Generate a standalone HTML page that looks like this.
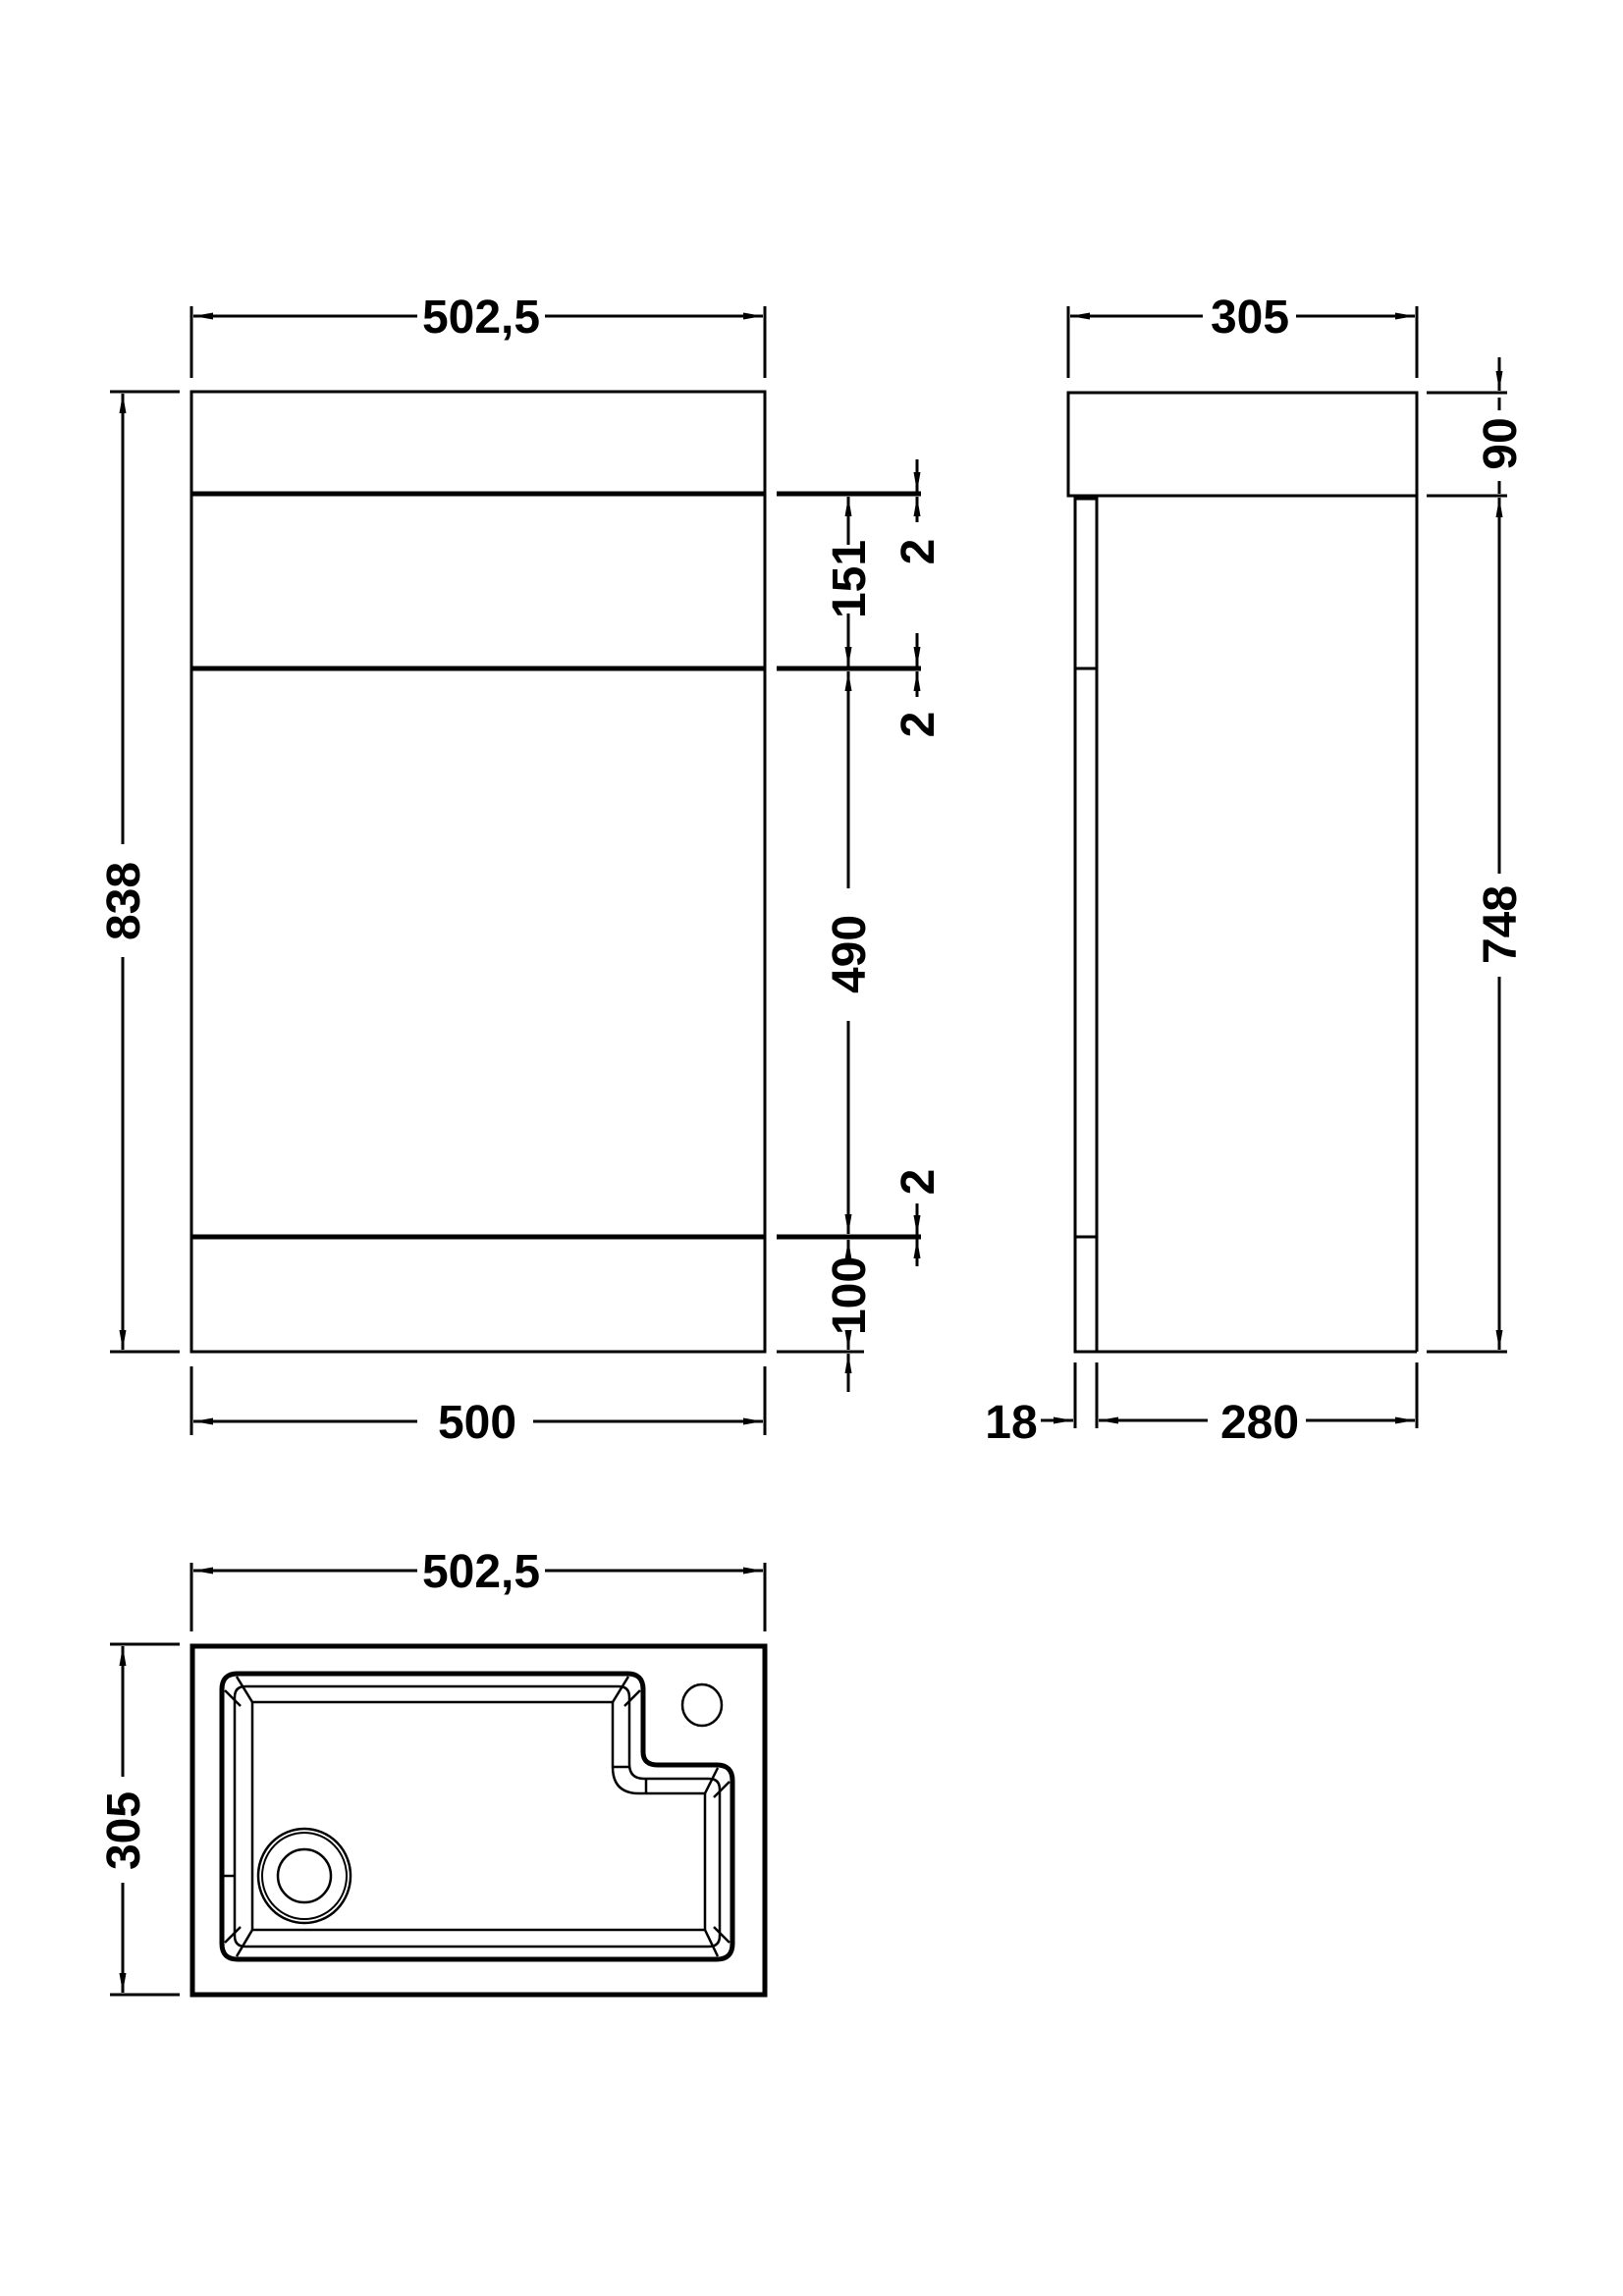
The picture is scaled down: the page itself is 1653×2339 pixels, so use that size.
<!DOCTYPE html>
<html><head><meta charset="utf-8"><style>
html,body{margin:0;padding:0;background:#fff;}
svg{display:block;}
text{font-family:"Liberation Sans",Arial,sans-serif;font-weight:bold;font-size:48px;fill:#000;}
</style></head><body>
<svg width="1653" height="2339" viewBox="0 0 1653 2339" xmlns="http://www.w3.org/2000/svg">
<defs>
<marker id="a" viewBox="0 0 20 8" refX="20" refY="4" markerWidth="20" markerHeight="8" markerUnits="userSpaceOnUse" orient="auto-start-reverse">
<path d="M0,0.5 L20,4 L0,7.5 Z" fill="#000"/>
</marker>
</defs>
<g stroke="#000" fill="none" stroke-width="3">
<!-- FRONT VIEW -->
<rect x="195" y="399" width="584" height="978"/>
<line x1="195" y1="503" x2="779" y2="503" stroke-width="5"/>
<line x1="195" y1="681" x2="779" y2="681" stroke-width="5"/>
<line x1="195" y1="1260" x2="779" y2="1260" stroke-width="5"/>
<line x1="791" y1="503" x2="938" y2="503" stroke-width="5"/>
<line x1="791" y1="681" x2="938" y2="681" stroke-width="5"/>
<line x1="791" y1="1260" x2="938" y2="1260" stroke-width="5"/>
<line x1="791" y1="1377" x2="880" y2="1377"/>
<!-- top dim -->
<line x1="195" y1="312" x2="195" y2="385"/>
<line x1="779" y1="312" x2="779" y2="385"/>
<line x1="197" y1="322" x2="425" y2="322" marker-start="url(#a)"/>
<line x1="555" y1="322" x2="777" y2="322" marker-end="url(#a)"/>
<!-- 838 -->
<line x1="112" y1="399" x2="183" y2="399"/>
<line x1="112" y1="1377" x2="183" y2="1377"/>
<line x1="125" y1="401" x2="125" y2="860" marker-start="url(#a)"/>
<line x1="125" y1="975" x2="125" y2="1375" marker-end="url(#a)"/>
<!-- 500 -->
<line x1="195" y1="1392" x2="195" y2="1462"/>
<line x1="779" y1="1392" x2="779" y2="1462"/>
<line x1="197" y1="1448" x2="425" y2="1448" marker-start="url(#a)"/>
<line x1="543" y1="1448" x2="777" y2="1448" marker-end="url(#a)"/>
<!-- 151/490/100 column -->
<line x1="864" y1="506" x2="864" y2="555" marker-start="url(#a)"/>
<line x1="864" y1="625" x2="864" y2="679" marker-end="url(#a)"/>
<line x1="864" y1="684" x2="864" y2="905" marker-start="url(#a)"/>
<line x1="864" y1="1040" x2="864" y2="1257" marker-end="url(#a)"/>
<line x1="864" y1="1263" x2="864" y2="1285" marker-start="url(#a)"/>
<line x1="864" y1="1375" x2="864" y2="1355" marker-start="url(#a)"/>
<line x1="864" y1="1379" x2="864" y2="1418" marker-start="url(#a)"/>
<!-- 2 column -->
<line x1="934" y1="468" x2="934" y2="501" marker-end="url(#a)"/>
<line x1="934" y1="506" x2="934" y2="532" marker-start="url(#a)"/>
<line x1="934" y1="645" x2="934" y2="679" marker-end="url(#a)"/>
<line x1="934" y1="684" x2="934" y2="710" marker-start="url(#a)"/>
<line x1="934" y1="1226" x2="934" y2="1258" marker-end="url(#a)"/>
<line x1="934" y1="1262" x2="934" y2="1290" marker-start="url(#a)"/>

<!-- SIDE VIEW -->
<rect x="1088" y="400" width="355" height="105"/>
<line x1="1443" y1="505" x2="1443" y2="1377"/>
<line x1="1095" y1="1377" x2="1443" y2="1377"/>
<rect x="1095" y="508" width="22" height="869"/>
<line x1="1095" y1="681" x2="1117" y2="681"/>
<line x1="1095" y1="1260" x2="1117" y2="1260"/>
<!-- 305 -->
<line x1="1088" y1="312" x2="1088" y2="385"/>
<line x1="1443" y1="312" x2="1443" y2="385"/>
<line x1="1090" y1="322" x2="1225" y2="322" marker-start="url(#a)"/>
<line x1="1320" y1="322" x2="1441" y2="322" marker-end="url(#a)"/>
<!-- 90 / 748 -->
<line x1="1453" y1="400" x2="1535" y2="400"/>
<line x1="1453" y1="505" x2="1535" y2="505"/>
<line x1="1453" y1="1377" x2="1535" y2="1377"/>
<line x1="1527" y1="364" x2="1527" y2="398" marker-end="url(#a)"/>
<line x1="1527" y1="405" x2="1527" y2="418"/>
<line x1="1527" y1="490" x2="1527" y2="503"/>
<line x1="1527" y1="507" x2="1527" y2="890" marker-start="url(#a)"/>
<line x1="1527" y1="995" x2="1527" y2="1375" marker-end="url(#a)"/>
<!-- 18 / 280 -->
<line x1="1095" y1="1388" x2="1095" y2="1455"/>
<line x1="1117" y1="1388" x2="1117" y2="1455"/>
<line x1="1443" y1="1388" x2="1443" y2="1455"/>
<line x1="1060" y1="1447" x2="1093" y2="1447" marker-end="url(#a)"/>
<line x1="1119" y1="1447" x2="1230" y2="1447" marker-start="url(#a)"/>
<line x1="1330" y1="1447" x2="1441" y2="1447" marker-end="url(#a)"/>

<!-- TOP VIEW -->
<line x1="195" y1="1592" x2="195" y2="1662"/>
<line x1="779" y1="1592" x2="779" y2="1662"/>
<line x1="197" y1="1600" x2="425" y2="1600" marker-start="url(#a)"/>
<line x1="555" y1="1600" x2="777" y2="1600" marker-end="url(#a)"/>
<line x1="112" y1="1675" x2="183" y2="1675"/>
<line x1="112" y1="2032" x2="183" y2="2032"/>
<line x1="125" y1="1677" x2="125" y2="1810" marker-start="url(#a)"/>
<line x1="125" y1="1918" x2="125" y2="2030" marker-end="url(#a)"/>
<rect x="196" y="1677" width="583" height="355" stroke-width="5"/>
<!-- sink outer -->
<path d="M242,1705 H639 Q655,1705 655,1721 V1785 Q655,1798 670,1798 H730 Q746,1798 746,1814 V1980 Q746,1996 730,1996 H242 Q226,1996 226,1980 V1721 Q226,1705 242,1705 Z" stroke-width="5"/>
<!-- second -->
<path d="M250,1718 H630 Q641,1718 641,1729 V1797 Q641,1812 656,1812 H722 Q733,1812 733,1823 V1972 Q733,1983 722,1983 H250 Q239,1983 239,1972 V1729 Q239,1718 250,1718 Z" stroke-width="2.5"/>
<!-- third -->
<path d="M257,1734 H624 V1800 Q624,1827 651,1827 H718 V1966 H257 Z" stroke-width="2.5"/>
<!-- bevel corners -->
<line x1="229" y1="1722" x2="245" y2="1738" stroke-width="2.5"/>
<line x1="241" y1="1708" x2="257" y2="1734" stroke-width="2.5"/>
<line x1="652" y1="1722" x2="636" y2="1738" stroke-width="2.5"/>
<line x1="640" y1="1708" x2="624" y2="1734" stroke-width="2.5"/>
<line x1="743" y1="1815" x2="727" y2="1831" stroke-width="2.5"/>
<line x1="731" y1="1801" x2="718" y2="1827" stroke-width="2.5"/>
<line x1="229" y1="1979" x2="245" y2="1963" stroke-width="2.5"/>
<line x1="241" y1="1993" x2="257" y2="1966" stroke-width="2.5"/>
<line x1="743" y1="1979" x2="727" y2="1963" stroke-width="2.5"/>
<line x1="731" y1="1993" x2="718" y2="1966" stroke-width="2.5"/>
<line x1="624" y1="1800" x2="641" y2="1800" stroke-width="2.5"/>
<line x1="658" y1="1812" x2="658" y2="1827" stroke-width="2.5"/>
<line x1="226" y1="1911" x2="239" y2="1911" stroke-width="2.5"/>
<!-- tap hole -->
<ellipse cx="715" cy="1737" rx="20" ry="21" stroke-width="2.5"/>
<!-- drain -->
<ellipse cx="310" cy="1911" rx="47" ry="48" stroke-width="2.5"/>
<ellipse cx="310" cy="1911" rx="43" ry="44" stroke-width="2"/>
<ellipse cx="310" cy="1911" rx="27" ry="27" stroke-width="2.5"/>
</g>
<!-- labels -->
<text x="490" y="339" text-anchor="middle">502,5</text>
<text x="486" y="1465" text-anchor="middle">500</text>
<text x="490" y="1617" text-anchor="middle">502,5</text>
<text x="1273" y="339" text-anchor="middle">305</text>
<text x="1030" y="1465" text-anchor="middle">18</text>
<text x="1283" y="1465" text-anchor="middle">280</text>
<text transform="translate(142,918) rotate(-90)" text-anchor="middle">838</text>
<text transform="translate(142,1865) rotate(-90)" text-anchor="middle">305</text>
<text transform="translate(881,590) rotate(-90)" text-anchor="middle">151</text>
<text transform="translate(881,972) rotate(-90)" text-anchor="middle">490</text>
<text transform="translate(881,1320) rotate(-90)" text-anchor="middle">100</text>
<text transform="translate(951,562) rotate(-90)" text-anchor="middle">2</text>
<text transform="translate(951,738) rotate(-90)" text-anchor="middle">2</text>
<text transform="translate(951,1204) rotate(-90)" text-anchor="middle">2</text>
<text transform="translate(1544,452) rotate(-90)" text-anchor="middle">90</text>
<text transform="translate(1544,942) rotate(-90)" text-anchor="middle">748</text>
</svg>
</body></html>
